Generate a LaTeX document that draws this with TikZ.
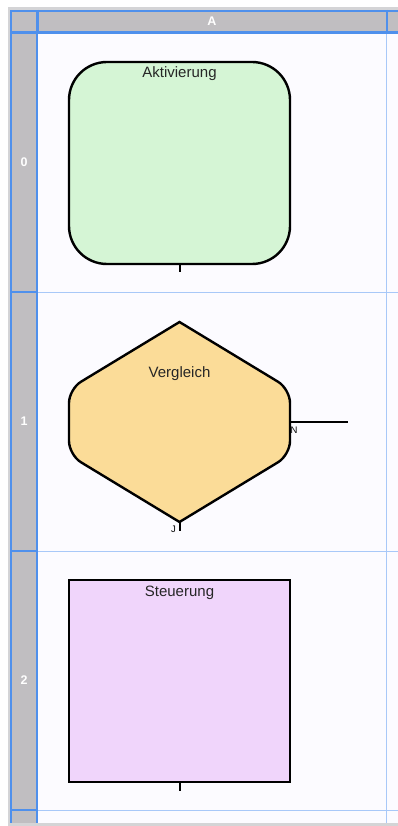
\documentclass[tikz,border=0pt]{standalone}
\usepackage{fontspec}
\setmainfont{Liberation Sans}
\usetikzlibrary{positioning}
\definecolor{hdrgray}{HTML}{C0BEC1}
\definecolor{hdrblue}{HTML}{4F90EC}
\definecolor{gridblue}{HTML}{A8C8F8}
\definecolor{cellwhite}{HTML}{FCFBFF}
\definecolor{framegray}{HTML}{D4D4D6}
\definecolor{aktlight}{HTML}{D5F5D5}
\definecolor{vgllight}{HTML}{FBDC98}
\definecolor{steulight}{HTML}{F0D5FB}

\begin{document}
\begin{tikzpicture}[x=1pt, y=-1pt,
  shapebox/.style={draw=black, line width=2.4pt, minimum width=221pt, minimum height=202pt, inner sep=0pt},
  boxtitle/.style={font=\fontsize{15}{18}\selectfont, text=black!85, inner sep=0pt},
  hdrtext/.style={text=white, font=\bfseries\fontsize{12.5}{14}\selectfont, inner sep=0pt},
  stub/.style={draw=black, line width=2pt},
  portlabel/.style={font=\fontsize{9.5}{10}\selectfont, inner sep=0pt}]
\useasboundingbox (0,0) rectangle (398,826);
\fill[white] (0,0) rectangle (398,826);
\fill[framegray] (8,7) rectangle (398,826);
\fill[hdrgray] (11,10) rectangle (398,33);
\fill[hdrgray] (11,33) rectangle (37,823);
\fill[cellwhite] (37,33) rectangle (398,823);
\draw[gridblue, line width=1.3pt] (386.5,33) -- (386.5,823);
\foreach \y in {292.5,551.5,810.5}
  \draw[gridblue, line width=1.3pt] (37,\y) -- (398,\y);
\draw[hdrblue, line width=2pt] (398,11) -- (11,11) -- (11,823);
\draw[hdrblue, line width=2.5pt] (11,32.5) -- (398,32.5);
\draw[hdrblue, line width=3pt] (37,10) -- (37,33);
\draw[hdrblue, line width=2.5pt] (387,10) -- (387,33);
\draw[hdrblue, line width=2pt] (36.5,33) -- (36.5,823);
\foreach \y in {292,551,810}
  \draw[hdrblue, line width=2.5pt] (11,\y) -- (37,\y);
\node[hdrtext] (colA) at (212,21.5) {A};
\foreach \r/\y in {0/162.5,1/421.5,2/680.5}
  \node[hdrtext] (row\r) at (24,\y) {\r};

\node[shapebox, fill=aktlight, rounded corners=38pt] (akt) at (179.5,163) {};
\node[boxtitle, below=6pt of akt.north] (akttitle) {Aktivierung};
\coordinate[below=7pt of akt.south] (aktout);
\draw[stub] (akt.south) -- (aktout);

\coordinate (vgltop) at (179.5,322);
\coordinate (vglbot) at (179.5,522);
\coordinate (vglright) at (290,422);
\draw[line width=2.4pt, fill=vgllight] (vgltop) [rounded corners=14pt] -- (69,389) -- (69,455) [sharp corners] -- (vglbot) [rounded corners=14pt] -- (290,455) -- (290,389) [sharp corners] -- cycle;
\node[boxtitle, below=44pt of vgltop] (vgltitle) {Vergleich};
\coordinate[below=9pt of vglbot] (vglyes);
\draw[stub] (vglbot) -- (vglyes);
\coordinate[right=58pt of vglright] (vglno);
\draw[line width=2.8pt] (vglright) -- (vglno);
\node[portlabel, anchor=north west] (nlabel) at (290.5,426.5) {N};
\node[portlabel, anchor=north east] (jlabel) at (176,525.5) {J};

\node[shapebox, fill=steulight] (steu) at (179.5,681) {};
\node[boxtitle, below=7.5pt of steu.north] (steutitle) {Steuerung};
\coordinate[below=8pt of steu.south] (steuout);
\draw[stub] (steu.south) -- (steuout);
\end{tikzpicture}
\end{document}
